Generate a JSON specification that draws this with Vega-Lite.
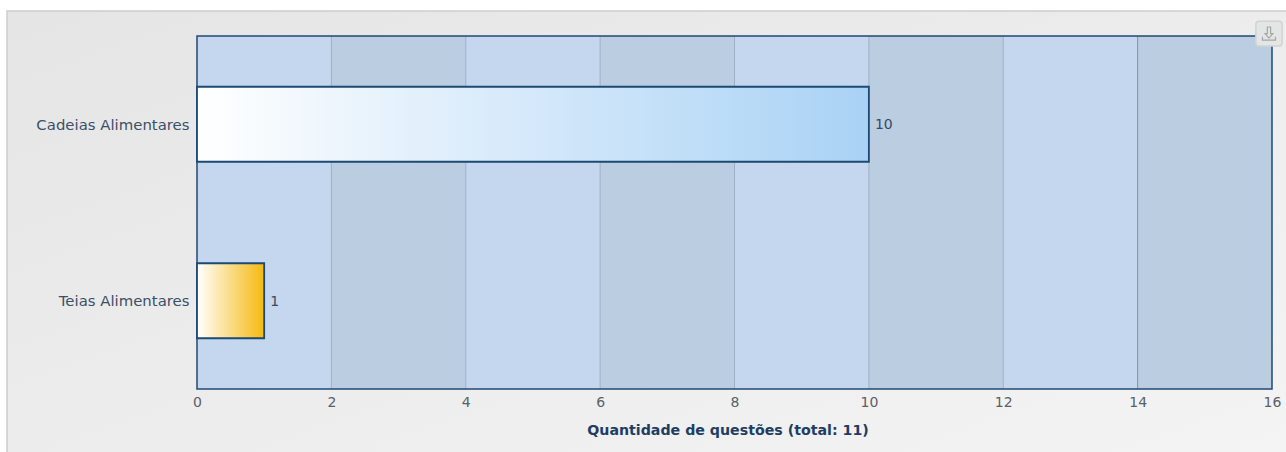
{
"$schema":"https://vega.github.io/schema/vega-lite/v6.json",
"width":1290,"height":455,
"autosize":{"type":"none"},
"padding":{"left":7,"top":11,"right":0,"bottom":0},
"background":"#ffffff",
"view":{"stroke":"#cdcdcd","strokeWidth":1.5,"fill":{"x1":0,"y1":0,"x2":1,"y2":1,"gradient":"linear","stops":[{"offset":0,"color":"#e5e5e5"},{"offset":1,"color":"#f4f4f4"}]}},
"datasets":{
"bars":[{"tema":"Cadeias Alimentares","questoes":10},{"tema":"Teias Alimentares","questoes":1}],
"bands":[{"de":0,"ate":2,"tom":"a"},{"de":2,"ate":4,"tom":"b"},{"de":4,"ate":6,"tom":"a"},{"de":6,"ate":8,"tom":"b"},{"de":8,"ate":10,"tom":"a"},{"de":10,"ate":12,"tom":"b"},{"de":12,"ate":14,"tom":"a"},{"de":14,"ate":16,"tom":"b"}],
"grid":[{"v":2,"c":"n"},{"v":4,"c":"n"},{"v":6,"c":"n"},{"v":8,"c":"n"},{"v":10,"c":"n"},{"v":12,"c":"n"},{"v":14,"c":"d"}]
},
"encoding":{
"x":{"type":"quantitative","scale":{"domain":[0,16],"range":[190,1265],"nice":false},"axis":{"values":[0,2,4,6,8,10,12,14,16],"orient":"bottom","offset":-77,"domain":false,"ticks":false,"grid":false,"format":"d","labelFont":"DejaVu Sans","labelFontSize":14,"labelColor":"#5a6068","labelPadding":6,"title":"Quantidade de questões (total: 11)","titleFont":"DejaVu Sans","titleFontSize":14.2,"titleFontWeight":"bold","titleColor":"#1e3d63","titlePadding":14,"titleX":720.5,"labelFlush":false}}
},
"layer":[
{"data":{"name":"bands"},"mark":{"type":"rect"},
 "encoding":{
  "x":{"field":"de","type":"quantitative"},
  "x2":{"field":"ate"},
  "y":{"datum":0,"type":"quantitative","scale":{"domain":[0,1],"range":[378,25],"nice":false},"axis":null},
  "y2":{"datum":1},
  "fill":{"field":"tom","type":"nominal","scale":{"domain":["a","b"],"range":["#c5d6ef","#bbcde1"]},"legend":null}
 }},
{"data":{"name":"grid"},"mark":{"type":"rule","strokeWidth":1},
 "encoding":{
  "x":{"field":"v","type":"quantitative"},
  "y":{"datum":0,"type":"quantitative","scale":{"domain":[0,1],"range":[378,25],"nice":false},"axis":null},
  "y2":{"datum":1},
  "stroke":{"field":"c","type":"nominal","scale":{"domain":["n","d"],"range":["#9db1c6","#7f93a8"]},"legend":null}
 }},
{"data":{"values":[{"de":0,"ate":16}]},"mark":{"type":"rect","fill":null,"fillOpacity":0,"stroke":"#1f4a75","strokeWidth":1.5},
 "encoding":{
  "x":{"field":"de","type":"quantitative"},"x2":{"field":"ate"},
  "y":{"datum":0,"type":"quantitative","scale":{"domain":[0,1],"range":[378,25],"nice":false},"axis":null},
  "y2":{"datum":1}
 }},
{"data":{"name":"bars"},"transform":[{"filter":"datum.questoes == 10"}],
 "mark":{"type":"bar","stroke":"#1b4a72","strokeWidth":1.8,"fill":{"x1":0,"y1":0,"x2":1,"y2":0,"gradient":"linear","stops":[{"offset":0,"color":"#ffffff"},{"offset":1,"color":"#a9d2f5"}]}},
 "encoding":{
  "x":{"field":"questoes","type":"quantitative"},
  "y":{"field":"tema","type":"nominal","sort":null,"scale":{"domain":["Cadeias Alimentares","Teias Alimentares"],"range":[25,378],"paddingInner":0.575,"paddingOuter":0.2875},
   "axis":{"orient":"left","offset":-190,"domain":false,"ticks":false,"grid":false,"title":null,"labelFont":"DejaVu Sans","labelFontSize":14.9,"labelColor":"#3a5068","labelPadding":8,"labelOffset":1.5}}
 }},
{"data":{"name":"bars"},"transform":[{"filter":"datum.questoes == 1"}],
 "mark":{"type":"bar","stroke":"#1b4a72","strokeWidth":1.8,"fill":{"x1":0,"y1":0,"x2":1,"y2":0,"gradient":"linear","stops":[{"offset":0,"color":"#ffffff"},{"offset":1,"color":"#f5b90f"}]}},
 "encoding":{
  "x":{"field":"questoes","type":"quantitative"},
  "y":{"field":"tema","type":"nominal","sort":null,"scale":{"domain":["Cadeias Alimentares","Teias Alimentares"],"range":[25,378],"paddingInner":0.575,"paddingOuter":0.2875},"axis":null}
 }},
{"data":{"name":"bars"},
 "mark":{"type":"text","align":"left","baseline":"middle","dx":6,"dy":1,"font":"DejaVu Sans","fontSize":14,"color":"#3a4a5c"},
 "encoding":{
  "x":{"field":"questoes","type":"quantitative"},
  "y":{"field":"tema","type":"nominal","sort":null,"scale":{"domain":["Cadeias Alimentares","Teias Alimentares"],"range":[25,378],"paddingInner":0.575,"paddingOuter":0.2875},"axis":null},
  "text":{"field":"questoes","type":"quantitative"}
 }},
{"data":{"values":[{"de":15.76,"ate":16.15,"a":0.972,"b":1.042}]},
 "mark":{"type":"rect","fill":"#e4e5e5","stroke":"#d2d2d2","strokeWidth":1.5,"cornerRadius":3,"clip":false},
 "encoding":{
  "x":{"field":"de","type":"quantitative"},"x2":{"field":"ate"},
  "y":{"field":"a","type":"quantitative","scale":{"domain":[0,1],"range":[378,25],"nice":false},"axis":null},
  "y2":{"field":"b"}
 }},
{"data":{"values":[{"c":15.955,"d":1.007}]},
 "mark":{"type":"point","shape":"M-0.25,-1 H0.25 V0 H0.6 L0,0.7 L-0.6,0 H-0.25 Z M-1,0.5 V1 H1 V0.5","size":170,"filled":false,"stroke":"#a6a6a6","strokeWidth":1.2,"opacity":1,"clip":false},
 "encoding":{
  "x":{"field":"c","type":"quantitative"},
  "y":{"field":"d","type":"quantitative","scale":{"domain":[0,1],"range":[378,25],"nice":false},"axis":null}
 }}
],
"resolve":{"scale":{"y":"independent"},"axis":{"y":"independent"}}
}
